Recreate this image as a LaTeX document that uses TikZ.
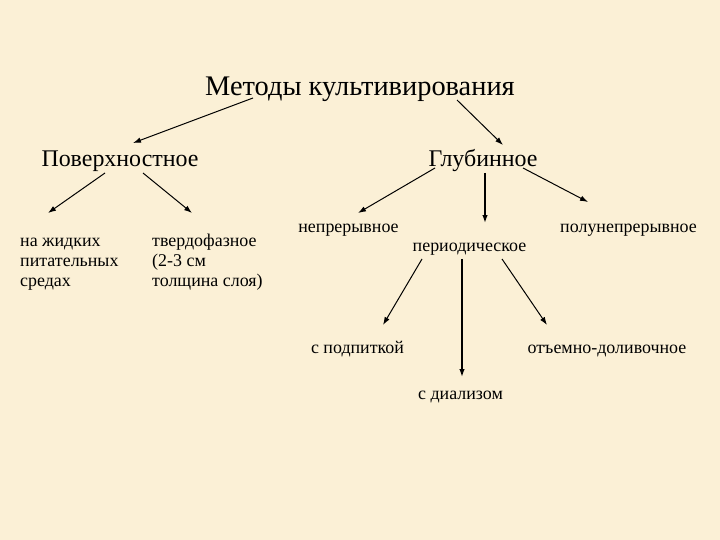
\documentclass[tikz,border=0pt]{standalone}
\usepackage{fontspec}
\setmainfont{Liberation Serif}
\usetikzlibrary{arrows.meta}
\definecolor{bg}{HTML}{FBF0D6}
\begin{document}
\begin{tikzpicture}[x=1bp,y=-1bp,
  big/.style={inner sep=0pt,anchor=base,font=\fontsize{28.5}{34}\selectfont},
  mid/.style={inner sep=0pt,anchor=base,font=\fontsize{24}{28}\selectfont},
  small/.style={inner sep=0pt,anchor=base,font=\fontsize{18}{20.5}\selectfont},
  block/.style={inner sep=0pt,anchor=base west,align=left,font=\fontsize{18}{20.5}\selectfont},
  arr/.style={draw=black,line width=1pt,-{Latex[length=8pt,width=5.5pt]}},
  varr/.style={arr,line width=1.4pt}]
\fill[bg] (0,0) rectangle (720,540);
\useasboundingbox (0,0) rectangle (720,540);

\node[big] (title) at (360,96) {Методы культивирования};
\node[mid] (pov) at (120,167) {Поверхностное};
\node[mid] (glub) at (483,167) {Глубинное};
\node[block] (liq) at (20,287) {на жидких\\питательных\\средах};
\node[block] (solid) at (152,287) {твердофазное\\(2-3 см\\толщина слоя)};
\node[small] (nepr) at (348.5,233) {непрерывное};
\node[small] (period) at (469.5,252) {периодическое};
\node[small] (polu) at (628.5,233) {полунепрерывное};
\node[small] (podp) at (357.5,353) {с подпиткой};
\node[small] (otem) at (607,353) {отъемно-доливочное};
\node[small] (dial) at (460.5,399) {с диализом};

\coordinate (t1) at (253,98);  \coordinate (p1) at (133,143);
\coordinate (t2) at (457,100); \coordinate (g1) at (503,145);
\coordinate (pa) at (105,173); \coordinate (la) at (48,213);
\coordinate (pb) at (143,173); \coordinate (sb) at (192,213);
\coordinate (ga) at (435,168); \coordinate (na) at (358,213);
\coordinate (gb) at (485,173); \coordinate (rb) at (485,223);
\coordinate (gc) at (523,168); \coordinate (uc) at (588,202);
\coordinate (ra) at (422,259); \coordinate (da) at (383,325);
\coordinate (rm) at (462,259); \coordinate (dm) at (462,377);
\coordinate (rc) at (502,259); \coordinate (dc) at (547,325);

\draw[arr] (t1) -- (p1);
\draw[arr] (t2) -- (g1);
\draw[arr] (pa) -- (la);
\draw[arr] (pb) -- (sb);
\draw[arr] (ga) -- (na);
\draw[varr] (gb) -- (rb);
\draw[arr] (gc) -- (uc);
\draw[arr] (ra) -- (da);
\draw[varr] (rm) -- (dm);
\draw[arr] (rc) -- (dc);
\end{tikzpicture}
\end{document}
